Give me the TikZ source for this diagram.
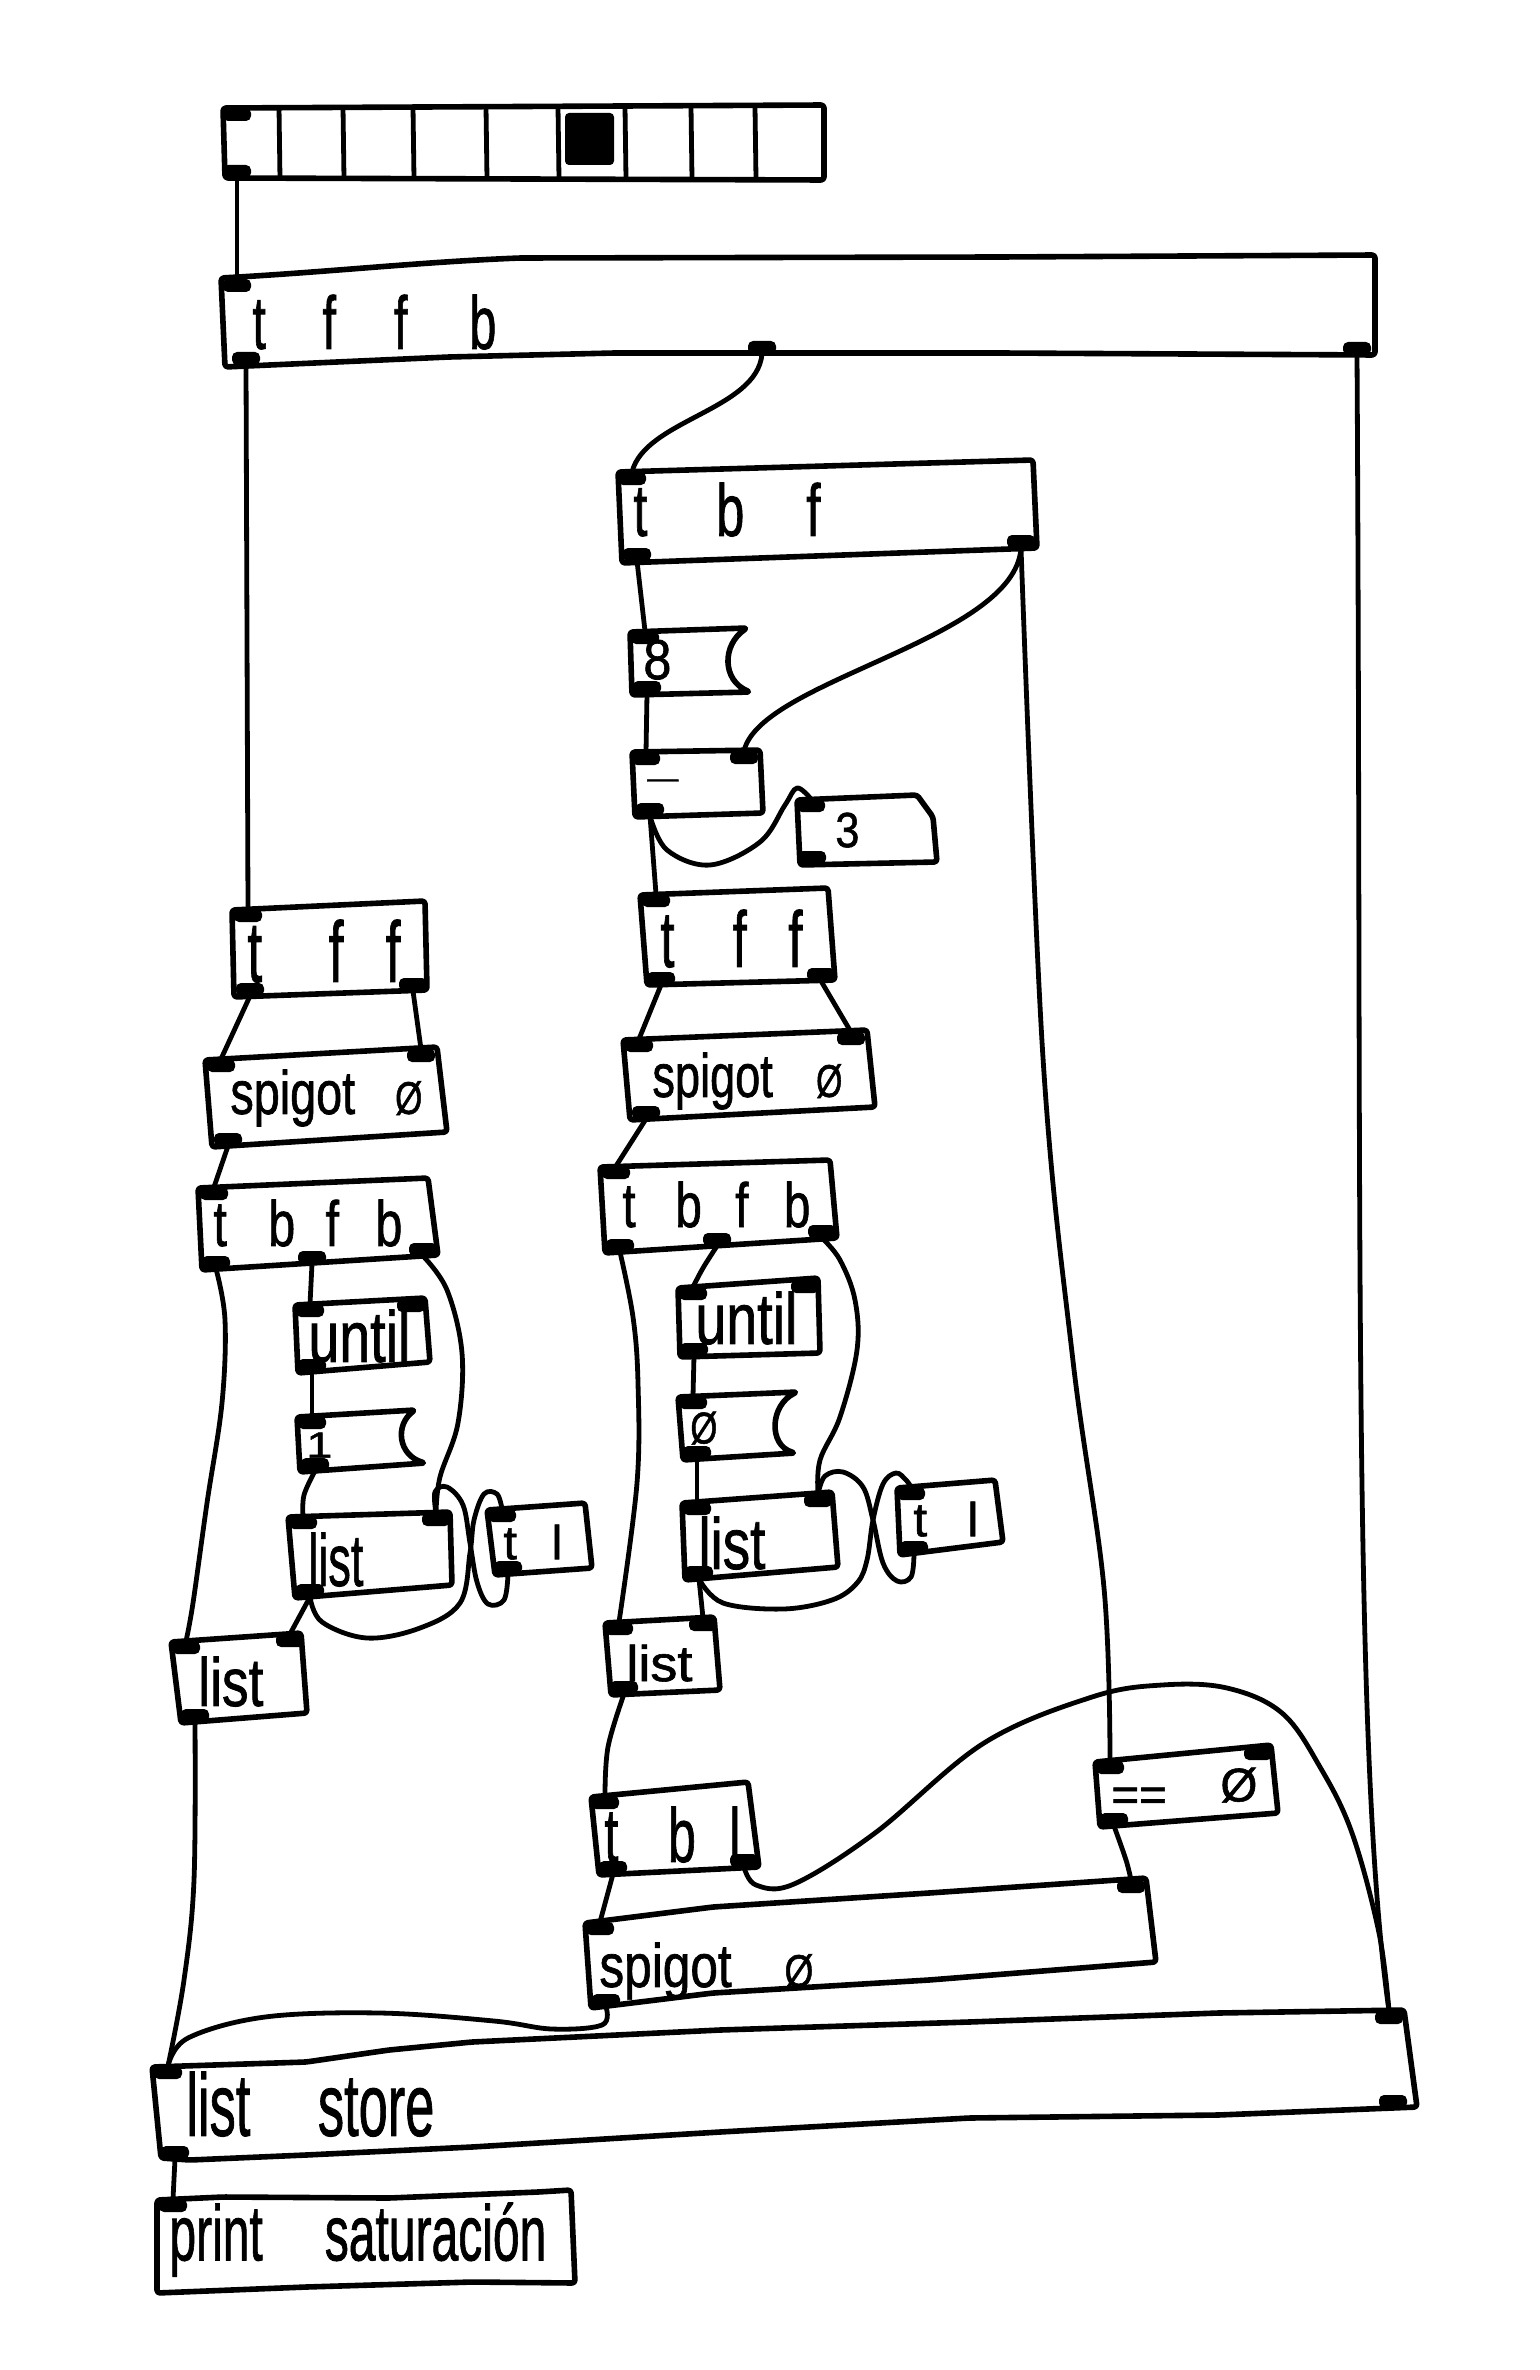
\documentclass[tikz,border=0pt]{standalone}
\usepackage{fontspec}
\setmainfont{Liberation Sans}
\newfontfamily\hwfont{Liberation Sans}[FakeBold=1.2]
\usepackage{graphicx}
\newlength\pxu
\setlength\pxu{0.5pt}
\tikzset{
  box/.style={line width=2.8pt, line join=round, rounded corners=1.5pt},
  wire/.style={line width=2.4pt, line cap=round, line join=round},
  port/.style={fill=black, rounded corners=2.5pt},
}
\newcommand\inport[3]{\coordinate (#1) at (#2,#3); \fill[port] (#2-14,#3) rectangle (#2+14,#3+13);}
\newcommand\outport[3]{\coordinate (#1) at (#2,#3); \fill[port] (#2-14,#3-13) rectangle (#2+14,#3);}
\newcommand\hwtext[6]{\node[anchor=south west,inner sep=0pt,font=\hwfont\fontsize{24}{28}\selectfont] (#1) at (#2,#3) {\resizebox*{#4\pxu}{#5\pxu}{#6}};}
\begin{document}
\begin{tikzpicture}[x=0.5pt,y=-0.5pt]
\fill[white] (0,0) rectangle (1539,2370);
\useasboundingbox (0,0) rectangle (1539,2370);

% ---------- boxes ----------
% radio
\draw[box] (223,108) -- (824,105) -- (824,180) -- (225,178) -- cycle;
\foreach \cx in {279,343,413,486,558,625,691,755} \draw[line width=2.4pt] (\cx,107) -- (\cx+1,179);
\fill[rounded corners=2pt] (565,113) rectangle (614,165);
% t f f b
\draw[box] (221,278) .. controls (330,272) and (420,262) .. (520,258) -- (1000,257) -- (1375,255) -- (1375,355) -- (1000,353) -- (614,353) -- (449,357) -- (225,367) -- cycle;
% t b f
\draw[box] (618,472) -- (1033,460) -- (1037,548) -- (622,563) -- cycle;
% number 8
\draw[box] (630,632) -- (747,628) .. controls (722,645) and (722,680) .. (750,692) -- (632,695) -- cycle;
% minus
\draw[box] (632,752) -- (760,750) -- (763,813) -- (635,817) -- cycle;
% message 3
\draw[box] (797,800) -- (917,795) -- (933,817) -- (937,862) -- (800,865) -- cycle;
% left t f f
\draw[box] (232,910) -- (425,901) -- (427,990) -- (234,997) -- cycle;
% right t f f
\draw[box] (640,895) -- (828,888) -- (835,980) -- (647,985) -- cycle;
% left spigot
\draw[box] (205,1060) -- (437,1047) -- (447,1132) -- (212,1147) -- cycle;
% right spigot
\draw[box] (623,1040) -- (867,1030) -- (875,1107) -- (630,1120) -- cycle;
% left t b f b
\draw[box] (198,1188) -- (428,1178) -- (438,1255) -- (202,1270) -- cycle;
% right t b f b
\draw[box] (600,1167) -- (830,1160) -- (837,1238) -- (605,1253) -- cycle;
% until boxes
\draw[box] (295,1305) -- (425,1298) -- (430,1362) -- (298,1373) -- cycle;
\draw[box] (678,1288) -- (818,1278) -- (820,1353) -- (680,1357) -- cycle;
% number 1 and number 0
\draw[box] (297,1417) -- (415,1410) .. controls (395,1425) and (398,1455) .. (425,1463) -- (300,1472) -- cycle;
\draw[box] (678,1397) -- (797,1392) .. controls (770,1405) and (768,1445) .. (795,1453) -- (683,1460) -- cycle;
% list boxes
\draw[box] (288,1517) -- (450,1512) -- (452,1585) -- (295,1598) -- cycle;
\draw[box] (682,1503) -- (832,1492) -- (838,1567) -- (685,1580) -- cycle;
% t l boxes
\draw[box] (487,1510) -- (585,1503) -- (592,1568) -- (495,1575) -- cycle;
\draw[box] (897,1488) -- (995,1480) -- (1003,1542) -- (900,1555) -- cycle;
% lower list boxes
\draw[box] (171,1642) -- (301,1633) -- (307,1713) -- (181,1723) -- cycle;
\draw[box] (605,1623) -- (714,1617) -- (720,1690) -- (611,1695) -- cycle;
% t b l
\draw[box] (591,1797) -- (748,1782) -- (759,1867) -- (599,1875) -- cycle;
% == 0
\draw[box] (1095,1762) -- (1271,1745) -- (1278,1813) -- (1100,1827) -- cycle;
% bottom spigot
\draw[box] (585,1923) -- (713,1907) -- (929,1893) -- (1146,1878) -- (1156,1962) -- (929,1980) -- (713,1993) -- (591,2008) -- cycle;
% list store
\draw[box] (152,2067) -- (306,2062) -- (389,2050) -- (472,2042) -- (720,2030) -- (969,2022) -- (1218,2013) -- (1404,2010) -- (1417,2107) -- (1218,2115) -- (969,2118) -- (720,2132) -- (472,2147) -- (306,2155) -- (190,2160) -- (161,2158) -- cycle;
% print
\draw[box] (157,2200) -- (223,2197) -- (389,2198) -- (538,2192) -- (571,2190) -- (575,2283) -- (472,2282) -- (306,2287) -- (157,2293) -- cycle;

% ---------- ports ----------
\inport{rdI}{237}{108} \outport{rdO}{237}{178}
\inport{tffbI}{237}{279} \outport{tffbOa}{246}{365} \outport{tffbOb}{762}{354} \outport{tffbOc}{1357}{355}
\inport{tbfI}{632}{472} \outport{tbfOa}{637}{561} \outport{tbfOb}{1021}{548}
\inport{neI}{645}{631} \outport{neO}{647}{694}
\inport{mnIa}{646}{752} \inport{mnIb}{744}{751} \outport{mnO}{650}{816}
\inport{mtI}{811}{799} \outport{mtO}{812}{864}
\inport{ltffI}{248}{909} \outport{ltffOa}{250}{996} \outport{ltffOb}{413}{991}
\inport{rtffI}{656}{894} \outport{rtffOa}{661}{985} \outport{rtffOb}{821}{981}
\inport{lspIa}{221}{1059} \inport{lspIb}{421}{1049} \outport{lspO}{228}{1146}
\inport{rspIa}{639}{1039} \inport{rspIb}{851}{1032} \outport{rspO}{646}{1119}
\inport{ltbfbI}{214}{1187} \outport{ltbfbOa}{216}{1269} \outport{ltbfbOb}{312}{1264} \outport{ltbfbOc}{423}{1256}
\inport{rtbfbI}{616}{1166} \outport{rtbfbOa}{620}{1252} \outport{rtbfbOb}{717}{1246} \outport{rtbfbOc}{822}{1238}
\inport{lunIa}{310}{1304} \inport{lunIb}{411}{1299} \outport{lunO}{312}{1372}
\inport{runIa}{693}{1287} \inport{runIb}{805}{1280} \outport{runO}{694}{1356}
\inport{noI}{312}{1416} \outport{noO}{315}{1471}
\inport{nzI}{693}{1396} \outport{nzO}{697}{1459}
\inport{llIa}{303}{1516} \inport{llIb}{436}{1513} \outport{llO}{310}{1597}
\inport{rlIa}{697}{1502} \inport{rlIb}{818}{1494} \outport{rlO}{699}{1579}
\inport{ltlI}{502}{1509} \outport{ltlO}{508}{1574}
\inport{rtlI}{911}{1487} \outport{rtlO}{914}{1554}
\inport{lllIa}{186}{1641} \inport{lllIb}{290}{1634} \outport{lllO}{195}{1722}
\inport{rllIa}{619}{1622} \inport{rllIb}{703}{1618} \outport{rllO}{624}{1694}
\inport{tblI}{605}{1796} \outport{tblOa}{613}{1874} \outport{tblOb}{744}{1867}
\inport{eqIa}{1110}{1761} \inport{eqIb}{1258}{1747} \outport{eqO}{1114}{1826}
\inport{bspIa}{600}{1922} \inport{bspIb}{1131}{1880} \outport{bspO}{606}{2007}
\inport{lsIa}{168}{2066} \inport{lsIb}{1389}{2011} \outport{lsOa}{175}{2159} \outport{lsOb}{1393}{2108}
\inport{prI}{173}{2199}

% ---------- wires ----------
\draw[wire] (rdO) -- (tffbI);
\draw[wire] (tffbOa) -- (ltffI);
\draw[wire] (tffbOb) .. controls (757,410) and (645,420) .. (tbfI);
\draw[wire] (tffbOc) .. controls (1362,1200) and (1352,1750) .. (lsIb);
\draw[wire] (tbfOa) -- (neI);
\draw[wire] (tbfOb) .. controls (1015,640) and (760,680) .. (mnIb);
\draw[wire] plot[smooth, tension=0.6] coordinates {(tbfOb) (1043,1058) (1073,1361) (1104,1588) (eqIa)};
\draw[wire] (neO) -- (mnIa);
\draw[wire] plot[smooth, tension=0.6] coordinates {(mnO) (667,850) (710,865) (760,842) (785,805) (797,788) (mtI)};
\draw[wire] (mnO) -- (rtffI);
\draw[wire] (ltffOa) -- (lspIa);
\draw[wire] (ltffOb) -- (lspIb);
\draw[wire] (rtffOa) -- (rspIa);
\draw[wire] (rtffOb) -- (rspIb);
\draw[wire] (lspO) -- (ltbfbI);
\draw[wire] (rspO) -- (rtbfbI);
\draw[wire] plot[smooth, tension=0.6] coordinates {(ltbfbOa) (225,1320) (222,1403) (207,1503) (193,1603) (lllIa)};
\draw[wire] (ltbfbOb) -- (lunIa);
\draw[wire] plot[smooth, tension=0.6] coordinates {(ltbfbOc) (447,1290) (462,1353) (458,1423) (440,1477) (llIb)};
\draw[wire] (lunO) -- (noI);
\draw[wire] plot[smooth, tension=0.6] coordinates {(noO) (304,1495) (llIa)};
\draw[wire] (llO) -- (lllIb);
\draw[wire] plot[smooth, tension=0.6] coordinates {(llO) (322,1622) (367,1638) (420,1628) (460,1603) (470,1553) (474,1520) (484,1494) (497,1494) (ltlI)};
\draw[wire] plot[smooth, tension=0.6] coordinates {(ltlO) (504,1600) (488,1604) (477,1582) (470,1543) (463,1505) (447,1487) (435,1492) (llIb)};
\draw[wire] plot[smooth, tension=0.6] coordinates {(rtbfbOa) (633,1317) (638,1383) (637,1483) (rllIa)};
\draw[wire] plot[smooth, tension=0.6] coordinates {(rtbfbOb) (703,1268) (runIa)};
\draw[wire] plot[smooth, tension=0.6] coordinates {(rtbfbOc) (840,1260) (855,1300) (857,1350) (840,1417) (820,1460) (rlIb)};
\draw[wire] (runO) -- (nzI);
\draw[wire] (nzO) -- (rlIa);
\draw[wire] (rlO) -- (rllIb);
\draw[wire] plot[smooth, tension=0.6] coordinates {(rlO) (723,1603) (783,1609) (832,1600) (857,1583) (867,1560) (873,1520) (883,1484) (896,1473) (906,1480) (rtlI)};
\draw[wire] plot[smooth, tension=0.6] coordinates {(rtlO) (911,1577) (897,1581) (883,1563) (873,1520) (863,1487) (843,1472) (825,1476) (rlIb)};
\draw[wire] plot[smooth, tension=0.6] coordinates {(lllO) (194,1880) (184,1980) (lsIa)};
\draw[wire] plot[smooth, tension=0.6] coordinates {(rllO) (608,1747) (tblI)};
\draw[wire] (tblOa) -- (bspIa);
\draw[wire] plot[smooth, tension=0.6] coordinates {(tblOb) (756,1885) (794,1884) (875,1833) (984,1743) (1092,1697) (1162,1685) (1227,1688) (1282,1713) (1320,1767) (1352,1833) (1379,1933) (lsIb)};
\draw[wire] plot[smooth, tension=0.6] coordinates {(eqO) (1126,1860) (bspIb)};
\draw[wire] plot[smooth, tension=0.6] coordinates {(bspO) (602,2025) (552,2029) (494,2021) (380,2013) (265,2017) (188,2038) (lsIa)};
\draw[wire] (lsOa) -- (prI);

% ---------- texts ----------
\hwtext{ttffb}{252}{350}{244}{55}{t\hspace{27.9pt}f\hspace{28.6pt}f\hspace{30.5pt}b}
\hwtext{ttbf}{633}{537}{187}{54}{t\hspace{32.5pt}b\hspace{29.3pt}f}
\hwtext{tei}{643}{680}{28}{40}{8}
\hwtext{tmn}{647}{788}{31}{8}{\textendash}
\hwtext{tth}{835}{848}{24}{35}{3}
\hwtext{tltff}{247}{983}{153}{63}{t\hspace{30.1pt}f\hspace{19.1pt}f}
\hwtext{trtff}{660}{968}{142}{58}{t\hspace{27.4pt}f\hspace{19.6pt}f}
\hwtext{tlsp}{230}{1127}{192}{57}{spigot\hspace{20.5pt}\scalebox{0.75}{Ø}}
\hwtext{trsp}{652}{1110}{190}{57}{spigot\hspace{23pt}\scalebox{0.75}{Ø}}
\hwtext{tltbfb}{213}{1247}{189}{47}{t\hspace{20.5pt}b\hspace{15pt}f\hspace{18pt}b}
\hwtext{trtbfb}{622}{1228}{188}{46}{t\hspace{20pt}b\hspace{16.8pt}f\hspace{17.8pt}b}
\hwtext{tlun}{308}{1363}{102}{53}{until}
\hwtext{trun}{695}{1345}{102}{53}{until}
\hwtext{tone}{306}{1458}{26}{25}{1}
\hwtext{tzero}{690}{1445}{27}{33}{Ø}
\hwtext{tll}{308}{1587}{55}{54}{list}
\hwtext{trl}{698}{1570}{67}{53}{list}
\hwtext{tltl}{503}{1560}{59}{35}{t\hspace{16.9pt}l}
\hwtext{trtl}{913}{1537}{65}{35}{t\hspace{19.4pt}l}
\hwtext{tlll}{198}{1707}{65}{50}{list}
\hwtext{trll}{626}{1682}{66}{37}{list}
\hwtext{ttbl}{604}{1863}{136}{56}{t\hspace{23.8pt}b\hspace{16pt}l}
\hwtext{teq}{1111}{1803}{146}{35}{\raisebox{-0.2em}[0.3em][0pt]{==}\hspace{27pt}Ø}
\hwtext{tbsp}{599}{2000}{214}{57}{spigot\hspace{25.5pt}\scalebox{0.75}{Ø}}
\hwtext{tls}{186}{2137}{248}{65}{list\hspace{31pt}store}
\hwtext{tpr}{169}{2277}{377}{74}{print\hspace{31pt}saturación}
\end{tikzpicture}
\end{document}
